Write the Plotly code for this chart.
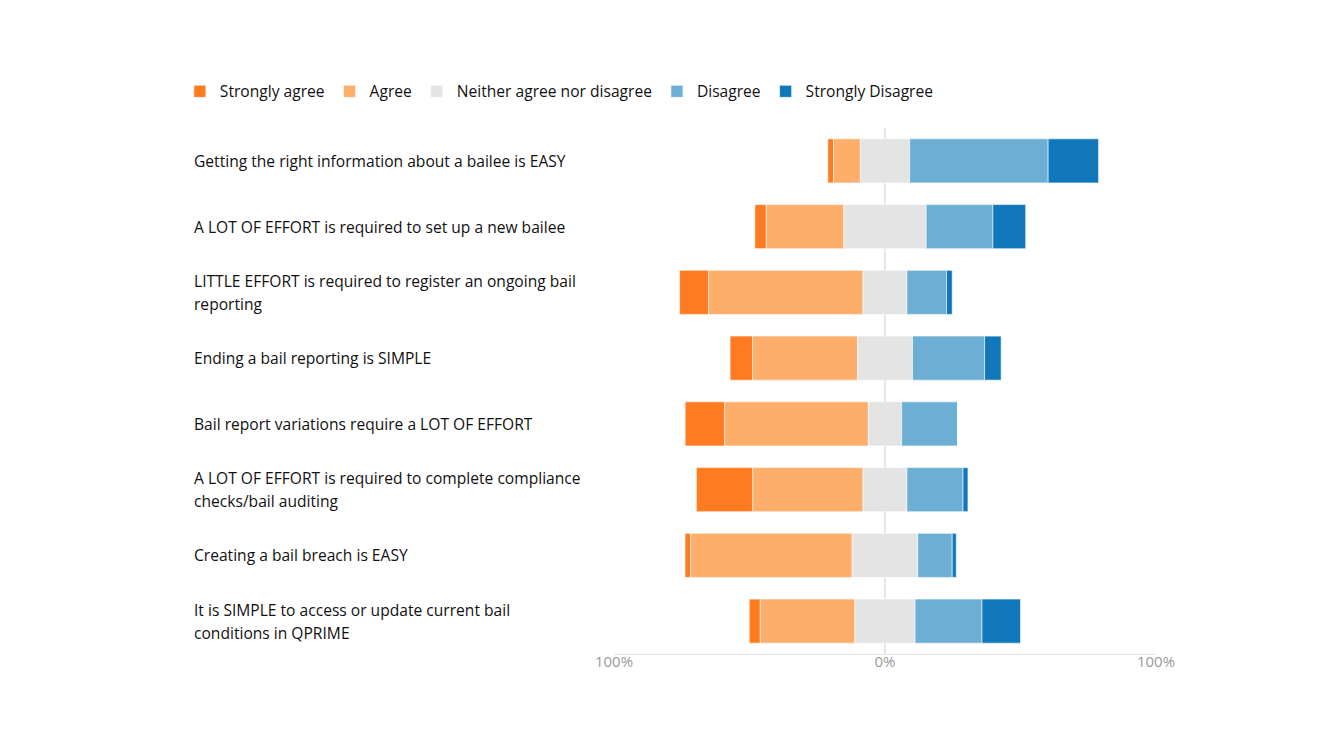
import plotly.graph_objects as go

categories = [
    "Getting the right information about a bailee is EASY",
    "A LOT OF EFFORT is required to set up a new bailee",
    "LITTLE EFFORT is required to register an ongoing bail<br>reporting",
    "Ending a bail reporting is SIMPLE",
    "Bail report variations require a LOT OF EFFORT",
    "A LOT OF EFFORT is required to complete compliance<br>checks/bail auditing",
    "Creating a bail breach is EASY",
    "It is SIMPLE to access or update current bail<br>conditions in QPRIME",
]

strongly_agree = [2.1, 4.2, 10.7, 8.3, 14.6, 20.8, 2.1, 4.1]
agree = [9.9, 28.6, 57.0, 38.7, 53.0, 40.7, 59.6, 34.9]
neutral = [18.2, 30.4, 16.2, 20.3, 12.3, 16.2, 24.2, 22.2]
disagree = [51.1, 24.6, 14.6, 26.6, 20.6, 20.7, 12.7, 24.7]
strongly_disagree = [18.6, 12.1, 2.1, 6.1, 0.0, 1.8, 1.5, 14.2]

series_names = ["Strongly agree", "Agree", "Neither agree nor disagree", "Disagree", "Strongly Disagree"]
colors = ["#FF7B22", "#FDAE6B", "#E4E4E4", "#6DAFD4", "#1078BA"]

tick_vals = [-100, 0, 100]
tick_text = ["100%", "0%", "100%"]

ids = list(range(len(categories)))

# diverging bases: neutral centred on zero
base_sa = [-(s + a + n / 2) for s, a, n in zip(strongly_agree, agree, neutral)]
base_a = [b + s for b, s in zip(base_sa, strongly_agree)]
base_n = [-n / 2 for n in neutral]
base_d = [n / 2 for n in neutral]
base_sd = [n / 2 + d for n, d in zip(neutral, disagree)]

fig = go.Figure()
for name, vals, base, col in zip(
    series_names,
    [strongly_agree, agree, neutral, disagree, strongly_disagree],
    [base_sa, base_a, base_n, base_d, base_sd],
    colors,
):
    fig.add_trace(go.Bar(
        name=name, y=ids, x=vals, base=base, orientation="h",
        marker=dict(color=col, line=dict(color="rgba(255,255,255,0.55)", width=1)),
        hoverinfo="skip",
    ))

FONT = "Open Sans"
FS = 15.6
for i, cat in enumerate(categories):
    lines = cat.split("<br>")
    n = len(lines)
    for k, line in enumerate(lines):
        shift = ((n - 1) / 2 - k) * 23
        fig.add_annotation(
            x=-0.779, xref="paper", y=i, yref="y", text=line, showarrow=False,
            xanchor="left", yanchor="middle", align="left", yshift=shift,
            font=dict(family=FONT, size=FS, color="#111111"),
        )

fig.update_layout(
    width=1324, height=756,
    margin=dict(l=606, r=176, t=120, b=110),
    paper_bgcolor="white", plot_bgcolor="white",
    barmode="overlay", bargap=0.33,
    font=dict(family=FONT, size=FS, color="#111111"),
    showlegend=True,
    legend=dict(
        orientation="h", x=-0.801, xanchor="left", y=1.069, yanchor="middle",
        font=dict(family=FONT, size=FS, color="#111111"),
        traceorder="normal", itemwidth=30,
    ),
    xaxis=dict(
        range=[-100, 100], tickvals=tick_vals, ticktext=tick_text,
        showgrid=True, gridcolor="#E6E6E6", gridwidth=1.5,
        zeroline=False, showline=True, linecolor="#E6E6E6", linewidth=1,
        ticks="", ticklabelstandoff=-6,
        tickfont=dict(family=FONT, size=15, color="#9A9A9A"),
        fixedrange=True,
    ),
    yaxis=dict(
        range=[len(categories) - 0.5, -0.5], showticklabels=False,
        showgrid=False, zeroline=False, showline=False, fixedrange=True,
    ),
)

fig.add_shape(type="line", xref="x", yref="paper", x0=0, x1=0, y0=0, y1=1,
              line=dict(color="#E2E2E2", width=1.5, dash="7px,12px"), layer="below")

fig.write_html("out.html")
